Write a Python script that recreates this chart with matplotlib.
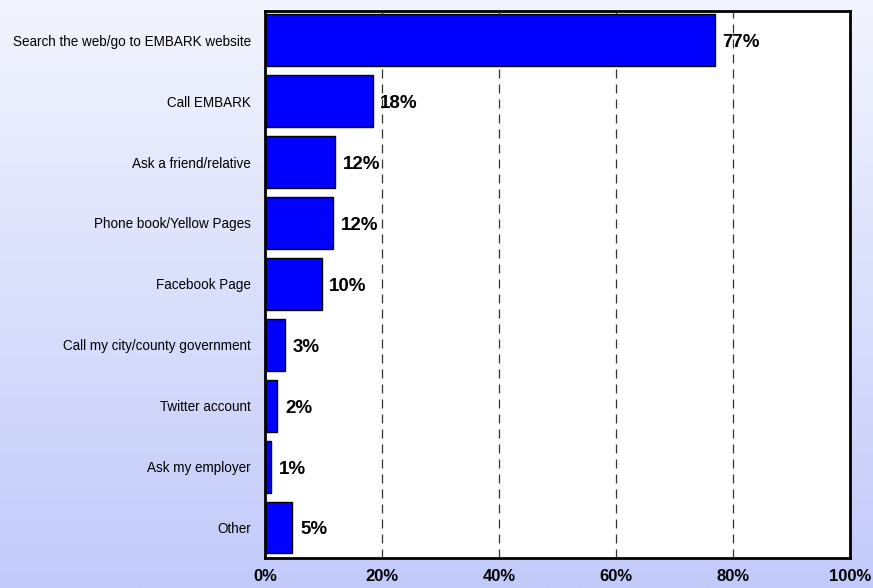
import numpy as np
import matplotlib.pyplot as plt
plt.rcParams["font.family"] = ["Liberation Sans", "DejaVu Sans"]

categories = ["Search the web/go to EMBARK website", "Call EMBARK",
              "Ask a friend/relative", "Phone book/Yellow Pages",
              "Facebook Page", "Call my city/county government",
              "Twitter account", "Ask my employer", "Other"]
values = [76.9, 18.4, 12.0, 11.7, 9.7, 3.4, 2.1, 1.1, 4.7]
labels = ["77%", "18%", "12%", "12%", "10%", "3%", "2%", "1%", "5%"]
ticks = [0, 20, 40, 60, 80, 100]
tick_labels = ["0%", "20%", "40%", "60%", "80%", "100%"]

fig = plt.figure(figsize=(8.73, 5.88), dpi=100)

# gradient background
bg = fig.add_axes([0, 0, 1, 1], zorder=-10)
top = np.array([242, 245, 253]) / 255
bot = np.array([194, 202, 250]) / 255
t = np.linspace(0, 1, 256)[:, None]
grad = (top[None, :] * (1 - t) + bot[None, :] * t)[:, None, :]
bg.imshow(grad, aspect="auto", extent=[0, 1, 0, 1])
bg.axis("off")

ax = fig.add_axes([265 / 873, 1 - 558 / 588, 585 / 873, 547 / 588])
ax.set_facecolor("white")
y = np.arange(len(categories))
ax.barh(y, values, height=0.85, color="#0000ff", edgecolor="black",
        linewidth=1, zorder=2)
for yi, v, lab in zip(y, values, labels):
    ax.text(v + 1.3, yi + 0.04, lab, fontsize=13.5, fontweight="bold",
            va="center", ha="left", zorder=3)

ax.set_xlim(0, 100)
ax.set_ylim(8.5, -0.48)
ax.set_xticks(ticks)
ax.set_xticklabels(tick_labels, fontsize=12, fontweight="bold")
ax.set_yticks(y)
ax.set_yticklabels(categories, fontsize=9.75)
ax.tick_params(axis="both", length=0)
ax.tick_params(axis="x", pad=8)
ax.tick_params(axis="y", pad=10)
for x in ticks[1:-1]:
    ax.axvline(x, color="#333333", linestyle=(0, (7.2, 4.8)), linewidth=0.9, zorder=1)
for s in ax.spines.values():
    s.set_linewidth(2)
    s.set_color("black")

fig.savefig("out.png", dpi=100)
